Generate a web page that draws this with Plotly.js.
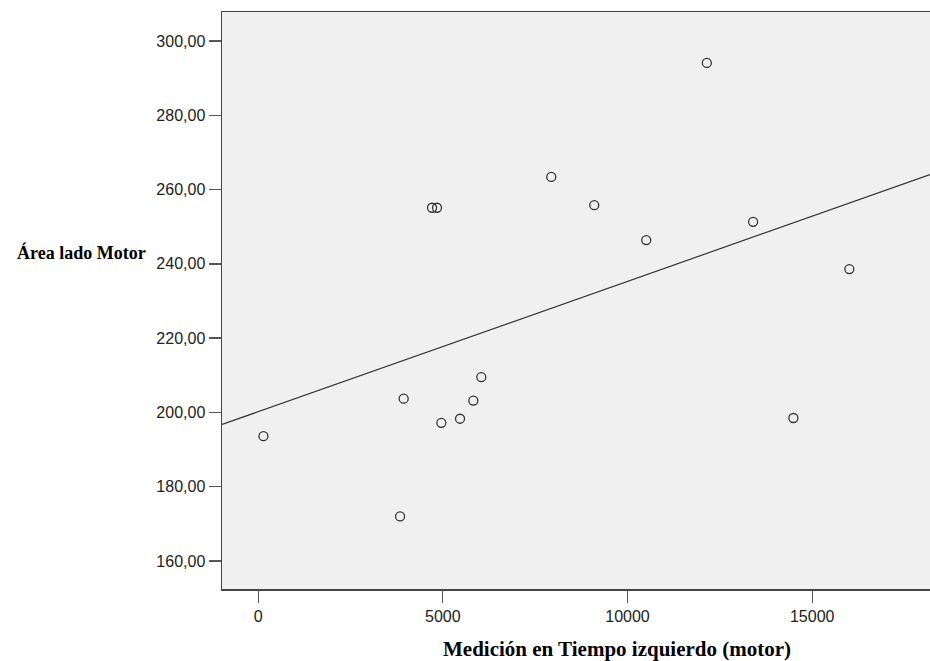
<!DOCTYPE html>
<html>
<head>
<meta charset="utf-8">
<script src="https://cdn.plot.ly/plotly-3.0.1.min.js"></script>
<style>body{margin:0;padding:0;background:#fff;} #chart{width:930px;height:661px;}</style>
</head>
<body>
<div id="chart"></div>
<script>
// Medición en Tiempo izquierdo (motor)
const tiempoIzq = [143, 3842, 3940, 4959, 5465, 5825, 6041, 4707, 4842, 7935, 9099, 10506, 12147, 13400, 16005, 14490];
// Área lado Motor
const areaMotor = [193.6, 172.0, 203.7, 197.2, 198.3, 203.2, 209.5, 255.1, 255.1, 263.4, 255.8, 246.4, 294.1, 251.3, 238.6, 198.5];
const xTicks = [0, 5000, 10000, 15000];
const yTicks = [160, 180, 200, 220, 240, 260, 280, 300];
const xTitle = "Medición en Tiempo izquierdo (motor)";
const yTitle = "Área lado Motor";

const xRange = [-979, 18189];
const yRange = [152.46, 307.8];

// least-squares fit line
const n = tiempoIzq.length;
const mx = tiempoIzq.reduce((a,b)=>a+b,0)/n;
const my = areaMotor.reduce((a,b)=>a+b,0)/n;
let sxy=0, sxx=0;
for (let i=0;i<n;i++){ sxy += (tiempoIzq[i]-mx)*(areaMotor[i]-my); sxx += (tiempoIzq[i]-mx)**2; }
const slope = sxy/sxx, icpt = my - slope*mx;
const fitX = xRange.slice();
const fitY = fitX.map(v => icpt + slope*v);

const data = [
  {x: fitX, y: fitY, type:'scatter', mode:'lines', line:{color:'#333333', width:1.2}, hoverinfo:'skip', cliponaxis:true},
  {x: tiempoIzq, y: areaMotor, type:'scatter', mode:'markers',
   marker:{symbol:'circle-open', size:9, color:'#333333', line:{width:1.3, color:'#333333'}}}
];
const tickFont = {family:'Liberation Sans, Arial, sans-serif', size:16, color:'#222'};
const layout = {
  width:930, height:661,
  margin:{l:222, r:0, t:12, b:72},
  paper_bgcolor:'#ffffff', plot_bgcolor:'#f0f0f0',
  showlegend:false,
  separators:',.',
  xaxis:{range:xRange, tickvals:xTicks, tickformat:'d', ticks:'outside', ticklen:12, tickwidth:1, tickcolor:'#555',
    showgrid:false, zeroline:false, showline:true, linecolor:'#444', linewidth:1.5, mirror:true, tickfont:tickFont},
  yaxis:{range:yRange, tickvals:yTicks, tickformat:'.2f', ticks:'outside', ticklen:12, tickwidth:1.5, tickcolor:'#555',
    showgrid:false, zeroline:false, showline:true, linecolor:'#444', linewidth:1.5, tickfont:tickFont, ticklabelstandoff:0},
  annotations:[
    {text:'<b>'+xTitle+'</b>', xref:'paper', yref:'paper', x:0.558, y:-0.104, xanchor:'center', yanchor:'middle', showarrow:false,
     font:{family:'Liberation Serif, Times New Roman, serif', size:21, color:'#000'}},
    {text:'<b>'+yTitle+'</b>', xref:'paper', yref:'paper', x:-0.1045, y:0.583, xanchor:'right', yanchor:'middle', showarrow:false,
     font:{family:'Liberation Serif, Times New Roman, serif', size:18, color:'#000'}}
  ]
};
Plotly.newPlot('chart', data, layout, {displayModeBar:false, staticPlot:true});
</script>
</body>
</html>
